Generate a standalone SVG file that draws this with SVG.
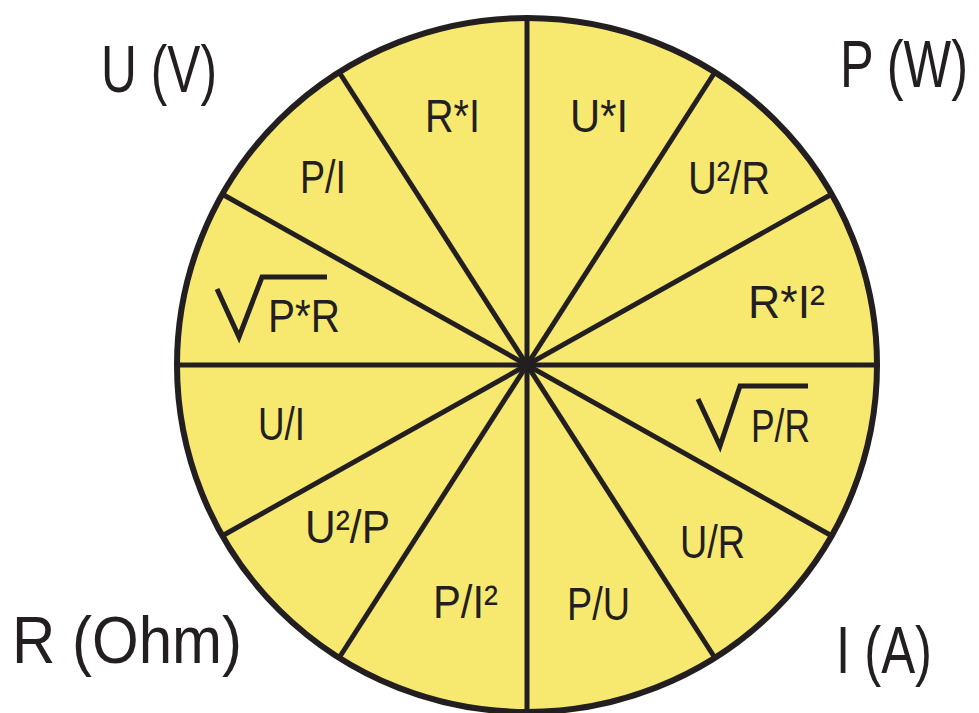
<svg xmlns="http://www.w3.org/2000/svg" width="979" height="713" viewBox="0 0 979 713">
<style>
.lbl{font-family:"Liberation Sans",Arial,sans-serif;font-size:46px;fill:#231F20}
.big{font-family:"Liberation Sans",Arial,sans-serif;font-size:66px;fill:#231F20}
.spoke{stroke:#231F20;stroke-width:5;fill:none}
.rad{stroke:#231F20;stroke-width:5;fill:none;stroke-linejoin:miter}
</style>
<rect width="979" height="713" fill="#ffffff"/>
<g id="wheel">
<ellipse cx="527" cy="365" rx="350" ry="347" fill="#F7E970" stroke="#231F20" stroke-width="6"/>
</g>
<g id="connectors">
<line class="spoke" x1="177" y1="365" x2="877" y2="365"/>
<line class="spoke" x1="527" y1="18" x2="527" y2="712"/>
<line class="spoke" x1="832" y1="194" x2="222" y2="536"/>
<line class="spoke" x1="715" y1="72" x2="339" y2="658"/>
<line class="spoke" x1="339" y1="72" x2="715" y2="658"/>
<line class="spoke" x1="222" y1="194" x2="832" y2="536"/>
</g>
<g id="corner-labels">
<text id="U" class="big" x="101" y="92" textLength="116" lengthAdjust="spacingAndGlyphs">U (V)</text>
<text id="P" class="big" x="840" y="87" textLength="128" lengthAdjust="spacingAndGlyphs">P (W)</text>
<text id="R" class="big" x="12" y="663" textLength="230" lengthAdjust="spacingAndGlyphs">R (Ohm)</text>
<text id="I" class="big" x="836" y="673" textLength="96" lengthAdjust="spacingAndGlyphs">I (A)</text>
</g>
<g id="sector-RI"><text class="lbl" x="425" y="132" textLength="55" lengthAdjust="spacingAndGlyphs">R*I</text></g>
<g id="sector-UI"><text class="lbl" x="570" y="132" textLength="58" lengthAdjust="spacingAndGlyphs">U*I</text></g>
<g id="sector-PI"><text class="lbl" x="300" y="193" textLength="46" lengthAdjust="spacingAndGlyphs">P/I</text></g>
<g id="sector-U2R"><text class="lbl" x="688" y="194" textLength="82" lengthAdjust="spacingAndGlyphs">U²/R</text></g>
<g id="sector-sqrtPR">
<polyline class="rad" points="217,289 239,337 262,277 327,277"/>
<text class="lbl" x="268" y="332" textLength="72" lengthAdjust="spacingAndGlyphs">P*R</text>
</g>
<g id="sector-RI2"><text class="lbl" x="748" y="318" textLength="77" lengthAdjust="spacingAndGlyphs">R*I²</text></g>
<g id="sector-sqrtPdivR">
<polyline class="rad" points="698,399 720,446 740,386 808,386"/>
<text class="lbl" x="751" y="442" textLength="59" lengthAdjust="spacingAndGlyphs">P/R</text>
</g>
<g id="sector-UdivI"><text class="lbl" x="258" y="440" textLength="47" lengthAdjust="spacingAndGlyphs">U/I</text></g>
<g id="sector-U2P"><text class="lbl" x="305" y="543" textLength="85" lengthAdjust="spacingAndGlyphs">U²/P</text></g>
<g id="sector-UdivR"><text class="lbl" x="680" y="558" textLength="65" lengthAdjust="spacingAndGlyphs">U/R</text></g>
<g id="sector-PI2"><text class="lbl" x="433" y="618" textLength="65" lengthAdjust="spacingAndGlyphs">P/I²</text></g>
<g id="sector-PdivU"><text class="lbl" x="567" y="620" textLength="63" lengthAdjust="spacingAndGlyphs">P/U</text></g>
</svg>
